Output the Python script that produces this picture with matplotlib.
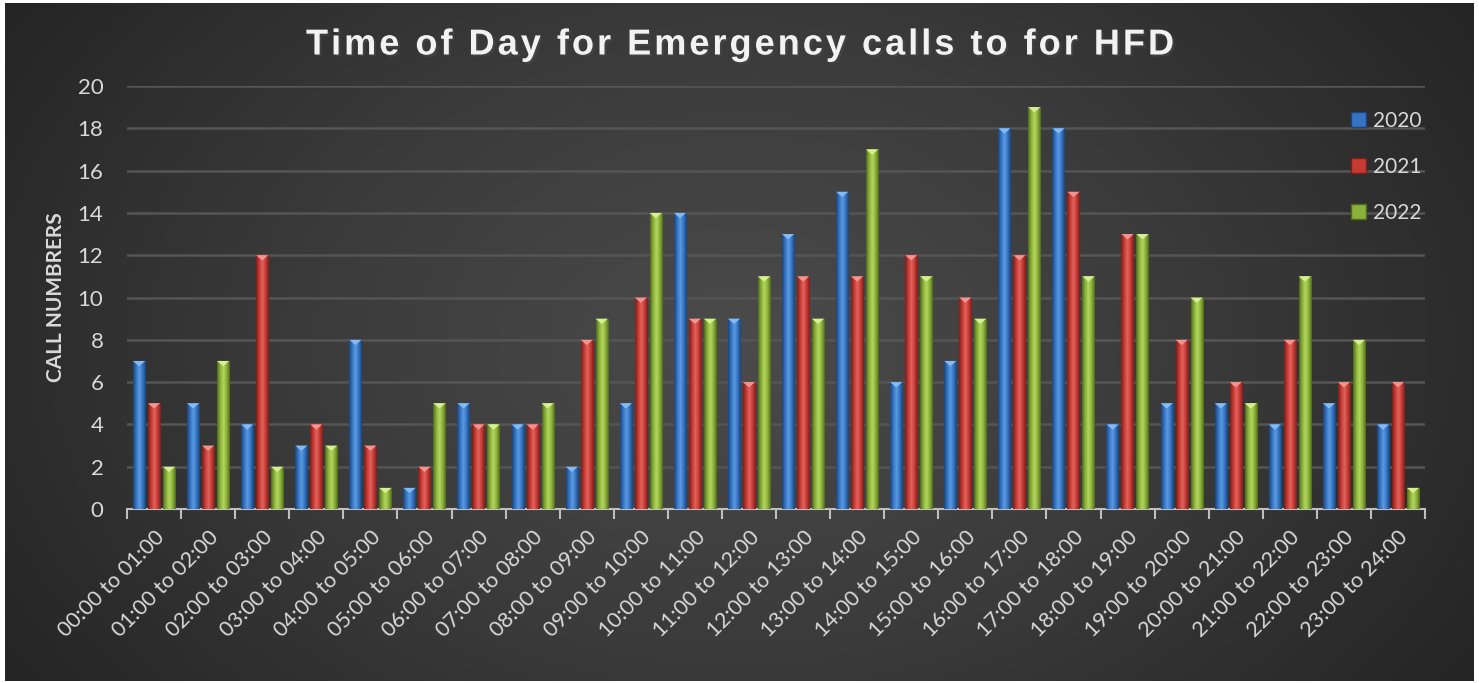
import numpy as np
import matplotlib.pyplot as plt
from matplotlib.colors import LinearSegmentedColormap
from matplotlib.patches import Polygon, Patch
import matplotlib.patheffects as pe

# hourly call counts per year
hours = [f"{h:02d}:00 to {h + 1:02d}:00" for h in range(24)]
years = ["2020", "2021", "2022"]
calls_2020 = [7, 5, 4, 3, 8, 1, 5, 4, 2, 5, 14, 9, 13, 15, 6, 7, 18, 18, 4, 5, 5, 4, 5, 4]
calls_2021 = [5, 3, 12, 4, 3, 2, 4, 4, 8, 10, 9, 6, 11, 11, 12, 10, 12, 15, 13, 8, 6, 8, 6, 6]
calls_2022 = [2, 7, 2, 3, 1, 5, 4, 5, 9, 14, 9, 11, 9, 17, 11, 9, 19, 11, 13, 10, 5, 11, 8, 1]

series = [calls_2020, calls_2021, calls_2022]
base_colors = ["#3574c4", "#c63a34", "#8cb13a"]
dark_colors = ["#1c4478", "#7a1f1c", "#4f6a1c"]
light_colors = ["#5b9be0", "#e2645e", "#b3d65e"]
cap_colors = ["#86bbf2", "#f29590", "#d8f095"]

W, H = 1479, 683
fig = plt.figure(figsize=(W / 100, H / 100), dpi=100, facecolor="white")

# dark radial background panel
bg = fig.add_axes([5 / W, 2 / H, (1473 - 5) / W, (680 - 2) / H])
yy, xx = np.mgrid[0:1:300j, 0:1:650j]
r = np.sqrt(((xx - 0.5) / 0.62) ** 2 + ((yy - 0.5) / 0.95) ** 2)
bg_cmap = LinearSegmentedColormap.from_list("bg", ["#4b4b4b", "#3a3a3a", "#232323"])
bg.imshow(np.clip(r, 0, 1), cmap=bg_cmap, vmin=0, vmax=1, aspect="auto",
          interpolation="bilinear")
bg.axis("off")

x0, x1, y0, y1 = 127, 1425, 86, 509
ax = fig.add_axes([x0 / W, 1 - y1 / H, (x1 - x0) / W, (y1 - y0) / H])
ax.set_facecolor("none")

x = np.arange(len(hours))
width = 0.225
offsets = [-0.277, 0.0, 0.277]
cap_h = 0.25

for vals, off, base, dark, light, cap in zip(series, offsets, base_colors,
                                              dark_colors, light_colors, cap_colors):
    cmap = LinearSegmentedColormap.from_list("bar", [dark, base, light, base, dark])
    bars = ax.bar(x + off, vals, width=width, color=base, zorder=3)
    grad = np.linspace(0, 1, 64).reshape(1, -1)
    for b, v in zip(bars, vals):
        bx = b.get_x()
        im = ax.imshow(grad, cmap=cmap, extent=[bx, bx + width, 0, v],
                       aspect="auto", zorder=4)
        im.set_clip_path(b)
        tri = Polygon([[bx, v], [bx + width, v], [bx + width / 2, v - cap_h]],
                      closed=True, facecolor=cap, edgecolor="none", zorder=5)
        ax.add_patch(tri)

ax.set_xlim(-0.5, len(hours) - 0.5)
ax.set_ylim(0, 20)
ax.set_yticks(range(0, 21, 2))
ax.yaxis.grid(True, color="#555555", linewidth=1.8)
ax.set_axisbelow(True)

for side in ["left", "right", "top"]:
    ax.spines[side].set_visible(False)
ax.spines["bottom"].set_color("#bfbfbf")
ax.spines["bottom"].set_linewidth(1.5)

tick_font = "Lato"
ax.set_xticks(x)
ax.set_xticklabels(hours, rotation=45, ha="right", rotation_mode="anchor",
                   fontsize=15.5, color="#d9d9d9", family=tick_font)
ax.set_xticks(np.arange(-0.5, len(hours)), minor=True)
ax.tick_params(axis="x", which="major", length=0, pad=13)
ax.tick_params(axis="x", which="minor", length=7, width=1.5, color="#bfbfbf")
ax.tick_params(axis="y", length=0, pad=17, labelsize=16, labelcolor="#d9d9d9")
for t in ax.get_yticklabels():
    t.set_family(tick_font)

ax.set_ylabel("CALL NUMBRERS", fontsize=15, fontweight="bold", color="#d9d9d9",
              family=tick_font, labelpad=8)

handles = [Patch(facecolor=c, edgecolor=d) for c, d in zip(base_colors, dark_colors)]
leg = fig.legend(handles, years, loc="upper left", bbox_to_anchor=(1332 / W, 1 - 92 / H),
                 frameon=False, labelspacing=1.25, handlelength=0.75,
                 handleheight=0.75, handletextpad=0.3, prop={"family": tick_font, "size": 15})
for t in leg.get_texts():
    t.set_color("#d9d9d9")

title = "Time of Day for Emergency calls to for HFD"
spaced = "\u200a".join(title)
fig.text(0.5, 1 - 45 / H, spaced, ha="center", va="center", fontsize=26,
         fontweight="bold", color="#f2f2f2", family=["Liberation Sans", "DejaVu Sans"],
         path_effects=[pe.SimplePatchShadow(offset=(1.5, -1.5), alpha=0.6),
                       pe.Normal()])

fig.savefig("out.png", dpi=100, facecolor="white")
